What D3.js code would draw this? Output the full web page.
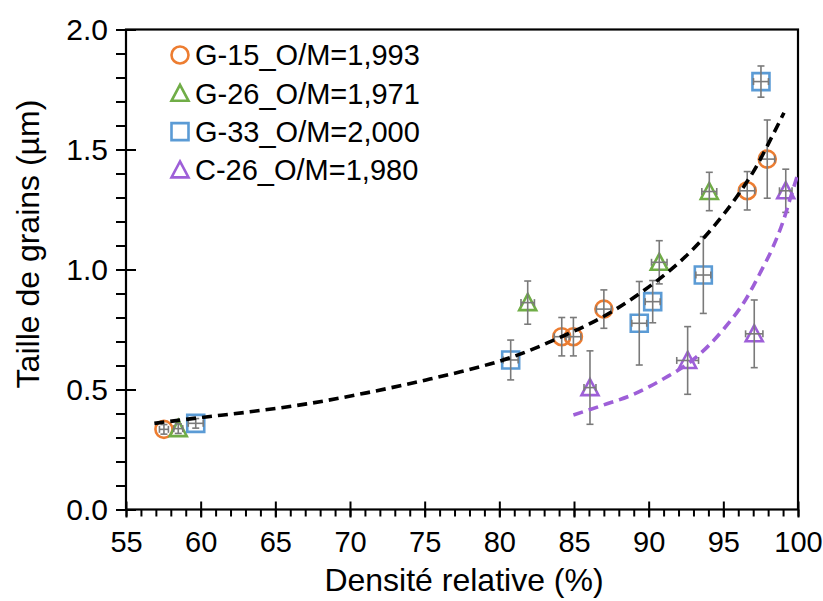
<!DOCTYPE html>
<html><head><meta charset="utf-8">
<script src="https://cdn.jsdelivr.net/npm/d3@7"></script>
<style>body{margin:0;background:#fff}svg{display:block}text{font-family:"Liberation Sans",Arial,sans-serif}</style>
</head><body>
<svg id="chart" width="823" height="601"></svg>
<script>
// ---- data ----
const seriesNames = ["G-15_O/M=1,993","G-26_O/M=1,971","G-33_O/M=2,000","C-26_O/M=1,980"];
const g15X = [57.54, 84.18, 84.96, 87.0, 96.6, 97.94];
const g15Y = [0.334, 0.72, 0.72, 0.835, 1.328, 1.46];
const g15YErr = [0.02, 0.08, 0.08, 0.08, 0.08, 0.163];
const g15XErr = [0.3, 0.5, 0.5, 0.5, 0.5, 0.5];
const g26X = [58.5, 81.9, 90.71, 94.06];
const g26Y = [0.337, 0.862, 1.03, 1.325];
const g26YErr = [0.02, 0.09, 0.09, 0.08];
const g26XErr = [0.3, 0.45, 0.52, 0.5];
const g33X = [59.67, 80.76, 89.37, 90.27, 93.66, 97.52];
const g33Y = [0.359, 0.623, 0.776, 0.866, 0.977, 1.783];
const g33YErr = [0.02, 0.083, 0.174, 0.088, 0.16, 0.065];
const g33XErr = [0.5, 0.5, 0.5, 0.5, 0.5, 0.5];
const c26X = [86.07, 92.61, 97.07, 99.18];
const c26Y = [0.508, 0.621, 0.732, 1.328];
const c26YErr = [0.153, 0.141, 0.141, 0.09];
const c26XErr = [0.4, 0.73, 0.58, 0.42];
const fitGX = [56.9, 60, 63.3, 67.1, 71.1, 75.1, 77.4, 80.7, 84.1, 87.0, 89.4, 91.2, 92.8, 94.3, 95.9, 97.2, 98.35, 99.06];
const fitGY = [0.359, 0.383, 0.407, 0.44, 0.486, 0.54, 0.574, 0.632, 0.718, 0.805, 0.90, 0.985, 1.074, 1.175, 1.303, 1.428, 1.565, 1.653];
const fitCX = [84.96, 86.96, 89.0, 91.0, 93.0, 95.0, 96.5, 97.5, 98.3, 99.0, 99.5, 99.95];
const fitCY = [0.394, 0.435, 0.48, 0.545, 0.625, 0.75, 0.875, 0.99, 1.09, 1.2, 1.3, 1.39];
const xTicks = [55,60,65,70,75,80,85,90,95,100];
const yTicks = [0,0.5,1.0,1.5,2.0];

const colors = ["#ED7D31","#70AD47","#5B9BD5","#9E5FD8"];
const shapes = ["circle","triangle","square","triangle"];

const svg = d3.select("#chart");
const L=126, R=798, T=29.5, B=509.5;
const x = d3.scaleLinear().domain([55,100]).range([L,R]);
const y = d3.scaleLinear().domain([0,2]).range([B,T]);

// frame
svg.append("rect").attr("x",L).attr("y",T).attr("width",R-L).attr("height",B-T)
  .attr("fill","none").attr("stroke","#000").attr("stroke-width",2.2);

// axes
const xMinor = d3.range(55,101,1);
const yMinor = d3.range(0,2.001,0.1);
const ax = svg.append("g").attr("transform",`translate(0,${B})`);
ax.call(d3.axisBottom(x).tickValues(xMinor).tickSize(7).tickFormat(""));
ax.select(".domain").remove();
ax.selectAll("line").attr("stroke","#000").attr("stroke-width",2);
const axM = svg.append("g").attr("transform",`translate(0,${B})`);
axM.call(d3.axisBottom(x).tickValues(xTicks).tickSizeInner(8).tickSizeOuter(0).tickPadding(14).tickFormat(d3.format("d")));
axM.select(".domain").remove();
axM.selectAll("line").attr("y1",-8).attr("stroke","#000").attr("stroke-width",2);
axM.selectAll("text").attr("font-size",29).attr("fill","#000").attr("font-family","Liberation Sans, Arial");

const ay = svg.append("g").attr("transform",`translate(${L},0)`);
ay.call(d3.axisLeft(y).tickValues(yMinor).tickSize(10).tickFormat(""));
ay.select(".domain").remove();
ay.selectAll("line").attr("stroke","#000").attr("stroke-width",2);
const ayM = svg.append("g").attr("transform",`translate(${L},0)`);
ayM.call(d3.axisLeft(y).tickValues(yTicks).tickSizeInner(10).tickSizeOuter(0).tickPadding(8).tickFormat(d3.format(".1f")));
ayM.select(".domain").remove();
ayM.selectAll("line").attr("x2",10).attr("stroke","#000").attr("stroke-width",2);
ayM.selectAll("text").attr("font-size",30).attr("fill","#000").attr("font-family","Liberation Sans, Arial");

// axis titles
svg.append("text").attr("x",(L+R)/2+2).attr("y",591).attr("text-anchor","middle")
  .attr("font-size",32).text("Densité relative (%)");
svg.append("text").attr("transform",`translate(39,244) rotate(-90)`).attr("text-anchor","middle")
  .attr("font-size",32).text("Taille de grains (µm)");

// clip
svg.append("clipPath").attr("id","clip").append("rect").attr("x",L).attr("y",T).attr("width",R-L).attr("height",B-T);

function shapePath(shape, cx, cy){
  if(shape==="square"){ const s=8.5; return `M${cx-s},${cy-s}H${cx+s}V${cy+s}H${cx-s}Z`; }
  const w=8.5, h=8.5; return `M${cx},${cy-h}L${cx+w},${cy+h-1}L${cx-w},${cy+h-1}Z`;
}
function drawMarker(g, shape, color, cx, cy){
  if(shape==="circle") g.append("circle").attr("cx",cx).attr("cy",cy).attr("r",8.5).attr("fill","none").attr("stroke",color).attr("stroke-width",2.6);
  else g.append("path").attr("d",shapePath(shape,cx,cy)).attr("fill","none").attr("stroke",color).attr("stroke-width",2.6).attr("stroke-linejoin","miter");
}

const series = [
  {xs:g15X, ys:g15Y, ye:g15YErr, xe:g15XErr},
  {xs:g26X, ys:g26Y, ye:g26YErr, xe:g26XErr},
  {xs:g33X, ys:g33Y, ye:g33YErr, xe:g33XErr},
  {xs:c26X, ys:c26Y, ye:c26YErr, xe:c26XErr}
];

const plot = svg.append("g");
series.forEach((s,i)=>{
  const g = plot.append("g");
  s.xs.forEach((xv,j)=>{
    drawMarker(g, shapes[i], colors[i], x(xv), y(s.ys[j]));
  });
  const eg = plot.append("g").attr("stroke","#7a7a7a").attr("stroke-width",1.6);
  s.xs.forEach((xv,j)=>{
    const cx=x(xv), cy=y(s.ys[j]);
    const y1=y(s.ys[j]+s.ye[j]), y2=y(s.ys[j]-s.ye[j]);
    const x1=x(xv-s.xe[j]), x2=x(xv+s.xe[j]);
    eg.append("line").attr("x1",cx).attr("x2",cx).attr("y1",y1).attr("y2",y2);
    eg.append("line").attr("x1",cx-3.5).attr("x2",cx+3.5).attr("y1",y1).attr("y2",y1);
    eg.append("line").attr("x1",cx-3.5).attr("x2",cx+3.5).attr("y1",y2).attr("y2",y2);
    eg.append("line").attr("x1",x1).attr("x2",x2).attr("y1",cy).attr("y2",cy);
    eg.append("line").attr("x1",x1).attr("x2",x1).attr("y1",cy-3.5).attr("y2",cy+3.5);
    eg.append("line").attr("x1",x2).attr("x2",x2).attr("y1",cy-3.5).attr("y2",cy+3.5);
  });
});

// trend lines
const line = d3.line().x(d=>x(d[0])).y(d=>y(d[1])).curve(d3.curveMonotoneX);
svg.append("path").datum(fitGX.map((v,i)=>[v,fitGY[i]])).attr("d",line)
  .attr("fill","none").attr("stroke","#000").attr("stroke-width",3.6).attr("stroke-dasharray","10,6").attr("clip-path","url(#clip)");
svg.append("path").datum(fitCX.map((v,i)=>[v,fitCY[i]])).attr("d",line)
  .attr("fill","none").attr("stroke",colors[3]).attr("stroke-width",3.6).attr("stroke-dasharray","10,6").attr("clip-path","url(#clip)");

// legend
const lg = svg.append("g");
seriesNames.forEach((n,i)=>{
  const cy = 55 + i*38.3;
  drawMarker(lg, shapes[i], colors[i], 180, cy);
  lg.append("text").attr("x",195).attr("y",cy).attr("dy","0.36em").attr("font-size",29).attr("fill","#000").text(n);
});
</script>
</body></html>
